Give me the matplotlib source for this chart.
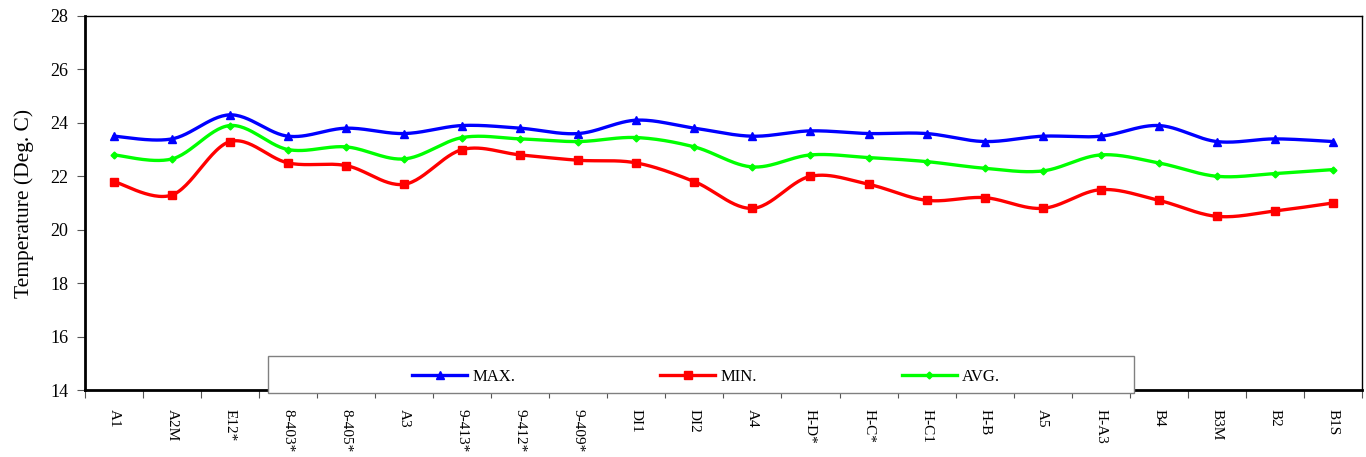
import numpy as np
import matplotlib
matplotlib.use("Agg")
import matplotlib.pyplot as plt
from matplotlib.patches import Rectangle

categories = ["A1", "A2M", "E12*", "8-403*", "8-405*", "A3", "9-413*", "9-412*",
              "9-409*", "DI1", "DI2", "A4", "H-D*", "H-C*", "H-C1", "H-B", "A5",
              "H-A3", "B4", "B3M", "B2", "B1S"]
max_vals = [23.5, 23.4, 24.3, 23.5, 23.8, 23.6, 23.9, 23.8, 23.6, 24.1, 23.8, 23.5,
            23.7, 23.6, 23.6, 23.3, 23.5, 23.5, 23.9, 23.3, 23.4, 23.3]
min_vals = [21.8, 21.3, 23.3, 22.5, 22.4, 21.7, 23.0, 22.8, 22.6, 22.5, 21.8, 20.8,
            22.0, 21.7, 21.1, 21.2, 20.8, 21.5, 21.1, 20.5, 20.7, 21.0]
avg_vals = [22.8, 22.65, 23.9, 23.0, 23.1, 22.65, 23.45, 23.4, 23.3, 23.45, 23.1, 22.35,
            22.8, 22.7, 22.55, 22.3, 22.2, 22.8, 22.5, 22.0, 22.1, 22.25]

plt.rcParams['font.family'] = ['Liberation Serif', 'DejaVu Serif']


def smooth(x, y, n=30):
    x = np.asarray(x, float)
    y = np.asarray(y, float)
    xs, ys = [], []
    m = len(x)
    for i in range(m - 1):
        p0 = np.array([x[max(i - 1, 0)], y[max(i - 1, 0)]])
        p1 = np.array([x[i], y[i]])
        p2 = np.array([x[i + 1], y[i + 1]])
        p3 = np.array([x[min(i + 2, m - 1)], y[min(i + 2, m - 1)]])
        c1 = p1 + (p2 - p0) / 6.0
        c2 = p2 - (p3 - p1) / 6.0
        t = np.linspace(0, 1, n)[:, None]
        pts = ((1 - t) ** 3) * p1 + 3 * ((1 - t) ** 2) * t * c1 + 3 * (1 - t) * t ** 2 * c2 + t ** 3 * p2
        xs.append(pts[:, 0])
        ys.append(pts[:, 1])
    return np.concatenate(xs), np.concatenate(ys)


fig = plt.figure(figsize=(13.66, 4.57), dpi=100)
ax = fig.add_axes([0.0622, 0.1466, 0.9348, 0.8184])

x = np.arange(len(categories))
series = [
    ("MAX.", max_vals, "#0000FF", "^", 6),
    ("MIN.", min_vals, "#FF0000", "s", 5.5),
    ("AVG.", avg_vals, "#00FF00", "D", 3.5),
]
handles = []
for label, vals, color, mk, ms in series:
    sx, sy = smooth(x, vals)
    ax.plot(sx, sy, color=color, lw=2.4, solid_capstyle='round', zorder=3)
    ax.plot(x, vals, linestyle='none', marker=mk, ms=ms, color=color, zorder=4)
    h, = ax.plot([], [], color=color, lw=2.4, marker=mk, ms=ms, label=label)
    handles.append(h)

ax.set_xlim(-0.5, len(categories) - 0.5)
ax.set_ylim(14, 28)
ax.set_yticks(np.arange(14, 29, 2))
ax.set_xticks(x)
ax.set_xticklabels(categories, rotation=270, fontsize=11, va='top', ha='center')
ax.set_xticks(np.arange(-0.5, len(categories), 1), minor=True)
ax.tick_params(axis='x', which='major', length=0, pad=14)
ax.tick_params(axis='x', which='minor', length=6, width=0.8, color='#555555', direction='out')
ax.tick_params(axis='y', labelsize=13, length=6, width=0.8, color='#555555', direction='out', pad=6)
ax.set_ylabel("Temperature (Deg. C)", fontsize=15.5, labelpad=12)

for side in ['left', 'bottom']:
    ax.spines[side].set_linewidth(2)
for side in ['top', 'right']:
    ax.spines[side].set_linewidth(1)

# legend frame (figure coordinates)
box = Rectangle((268 / 1366, (457 - 393) / 457), (1134 - 268) / 1366, 37 / 457,
                transform=fig.transFigure, facecolor='white', edgecolor='#808080',
                linewidth=1, zorder=9)
fig.add_artist(box)
leg = fig.legend(handles=handles, loc='center',
                 bbox_to_anchor=(706 / 1366, (457 - 377) / 457),
                 ncol=3, frameon=False, fontsize=12,
                 handlelength=3.3, handletextpad=0.3, columnspacing=8.7,
                 borderaxespad=0)
leg.set_zorder(10)

fig.savefig("out.png", dpi=100)
